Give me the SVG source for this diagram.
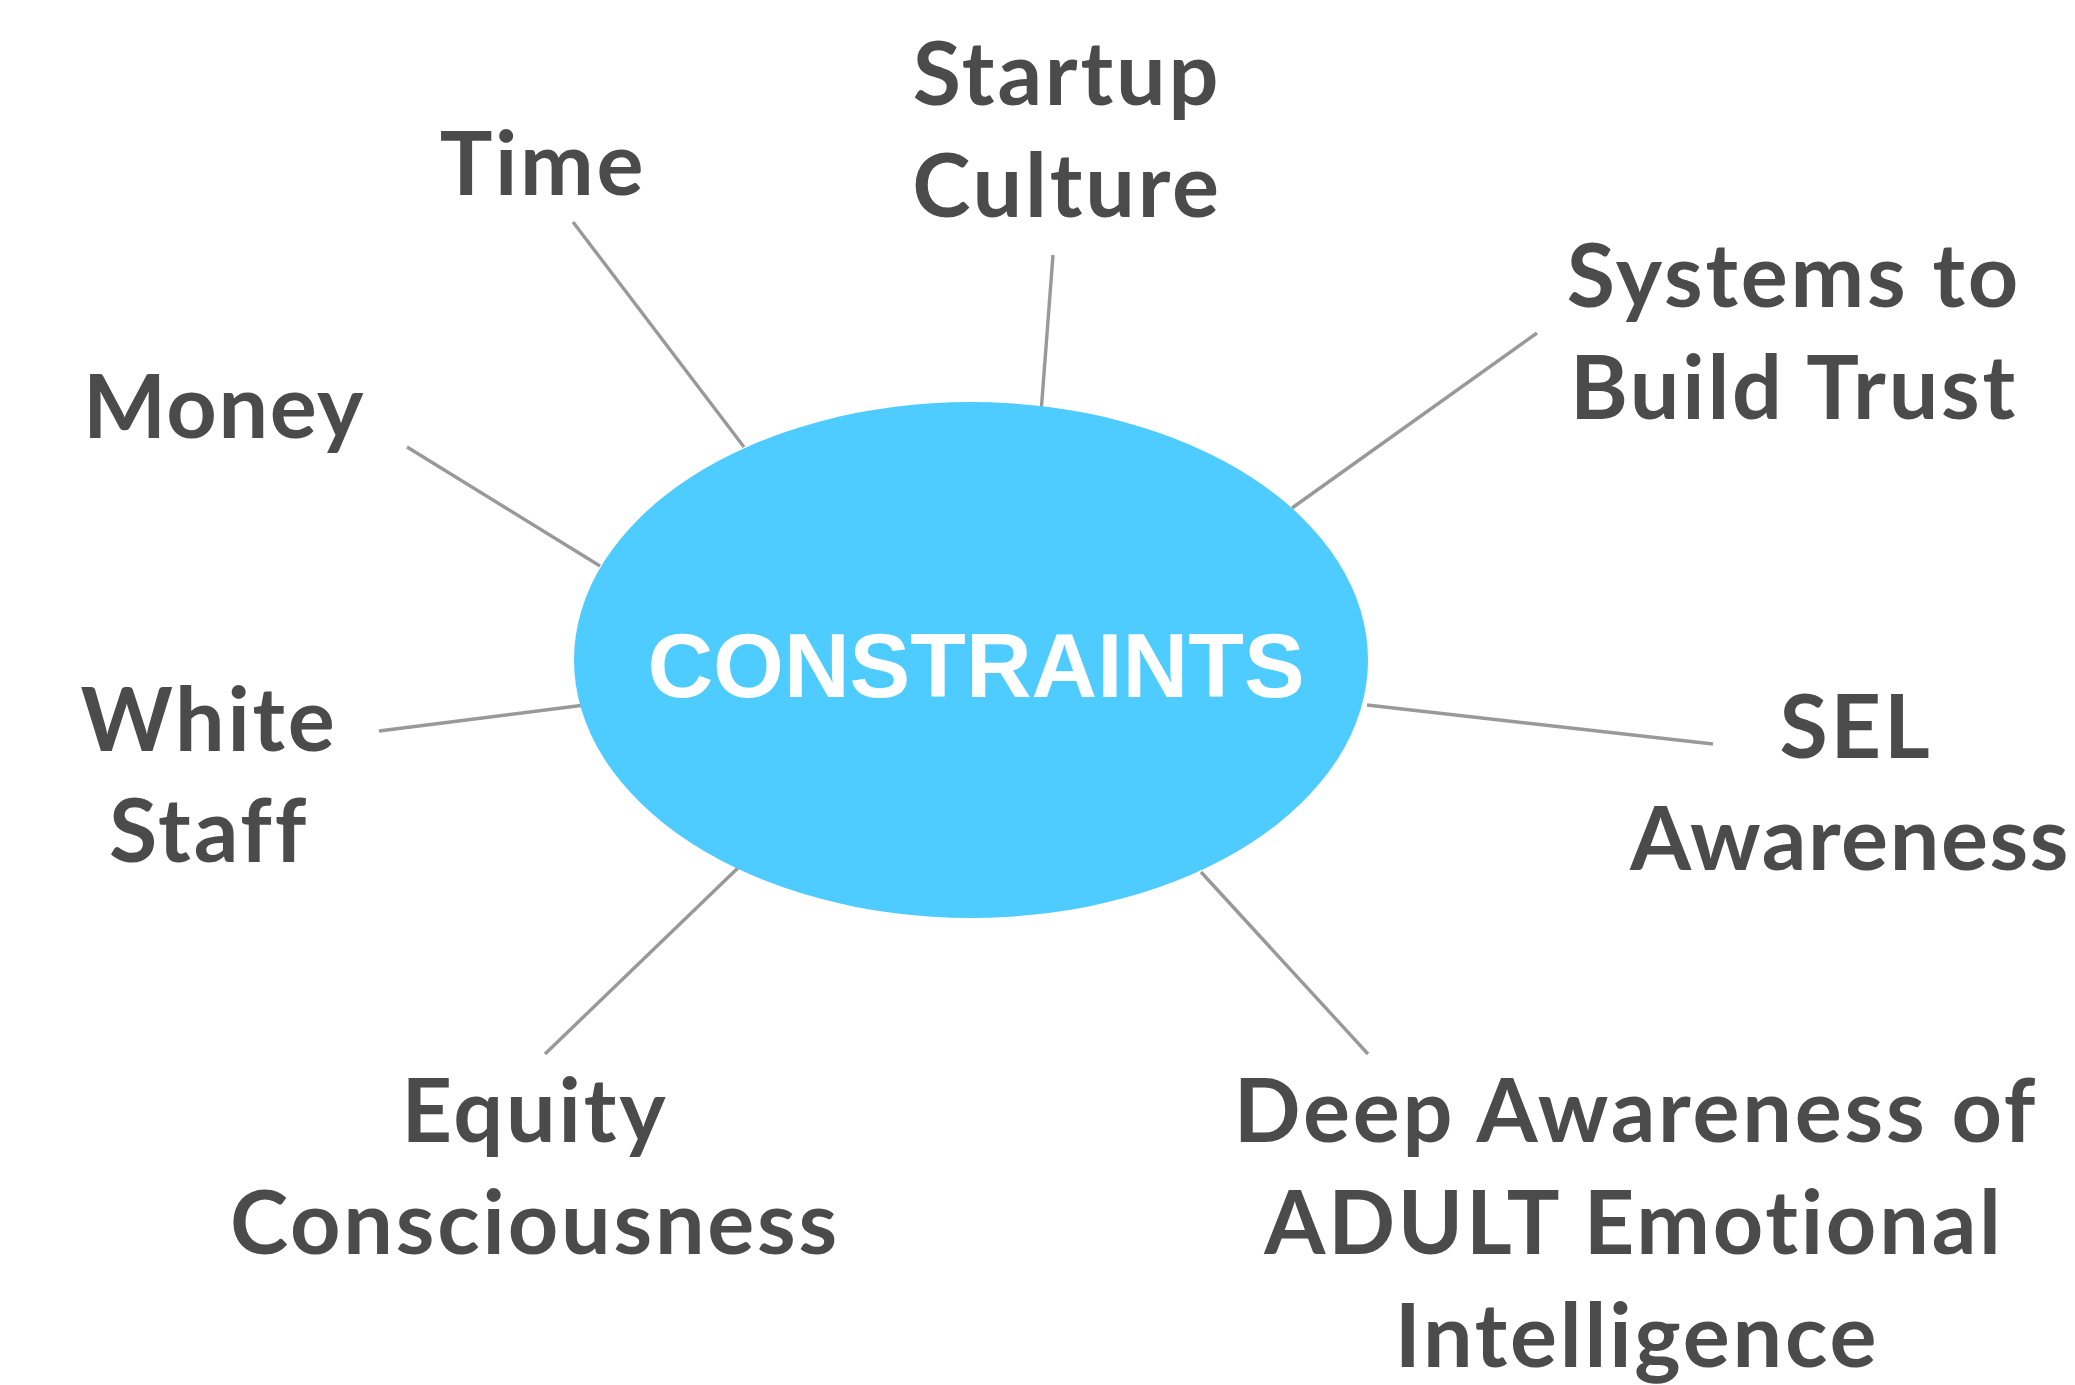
<svg xmlns="http://www.w3.org/2000/svg" width="2075" height="1385" viewBox="0 0 2075 1385">
<style>
.lbl{font-family:Lato,"Liberation Sans",sans-serif;font-weight:700;font-size:88px;fill:#4b4b4b;text-anchor:middle;letter-spacing:2.8px;font-variant-ligatures:none;font-feature-settings:"liga" 0,"dlig" 0}
.tight{letter-spacing:1.6px}
.con{stroke:#999999;stroke-width:3.4;stroke-linecap:butt;fill:none}
.hub{fill:#4ecbff}
.hubtxt{font-family:"Liberation Sans",Arial,sans-serif;font-weight:700;font-size:91px;fill:#ffffff;text-anchor:middle}
</style>
<rect width="2075" height="1385" fill="#ffffff"/>
<g id="connectors">
<line class="con" x1="573" y1="222" x2="744" y2="447"/>
<line class="con" x1="1053" y1="255" x2="1041" y2="413"/>
<line class="con" x1="1537" y1="333" x2="1292" y2="508"/>
<line class="con" x1="407" y1="447" x2="600" y2="566"/>
<line class="con" x1="379" y1="731" x2="585" y2="705"/>
<line class="con" x1="1367" y1="705" x2="1713" y2="744"/>
<line class="con" x1="740" y1="866" x2="545" y2="1054"/>
<line class="con" x1="1201" y1="872" x2="1368" y2="1054"/>
</g>
<g id="constraints">
<ellipse class="hub" cx="971" cy="660" rx="397" ry="258"/>
<text class="hubtxt" x="976" y="697">CONSTRAINTS</text>
</g>
<g id="time"><text class="lbl" x="543" y="195">Time</text></g>
<g id="startup-culture"><text class="lbl" x="1067" y="105">Startup</text><text class="lbl" x="1067" y="217">Culture</text></g>
<g id="systems"><text class="lbl" x="1794" y="307">Systems to</text><text class="lbl" x="1794" y="419">Build Trust</text></g>
<g id="money"><text class="lbl tight" x="224" y="438">Money</text></g>
<g id="white-staff"><text class="lbl" x="209" y="751">White</text><text class="lbl" x="209" y="862">Staff</text></g>
<g id="sel"><text class="lbl" x="1856" y="758">SEL</text><text class="lbl tight" x="1850" y="870">Awareness</text></g>
<g id="equity"><text class="lbl" x="535" y="1142">Equity</text><text class="lbl" x="535" y="1254">Consciousness</text></g>
<g id="deep"><text class="lbl" x="1636" y="1142">Deep Awareness of</text><text class="lbl" x="1634" y="1254">ADULT Emotional</text><text class="lbl" x="1637" y="1367">Intelligence</text></g>
</svg>
